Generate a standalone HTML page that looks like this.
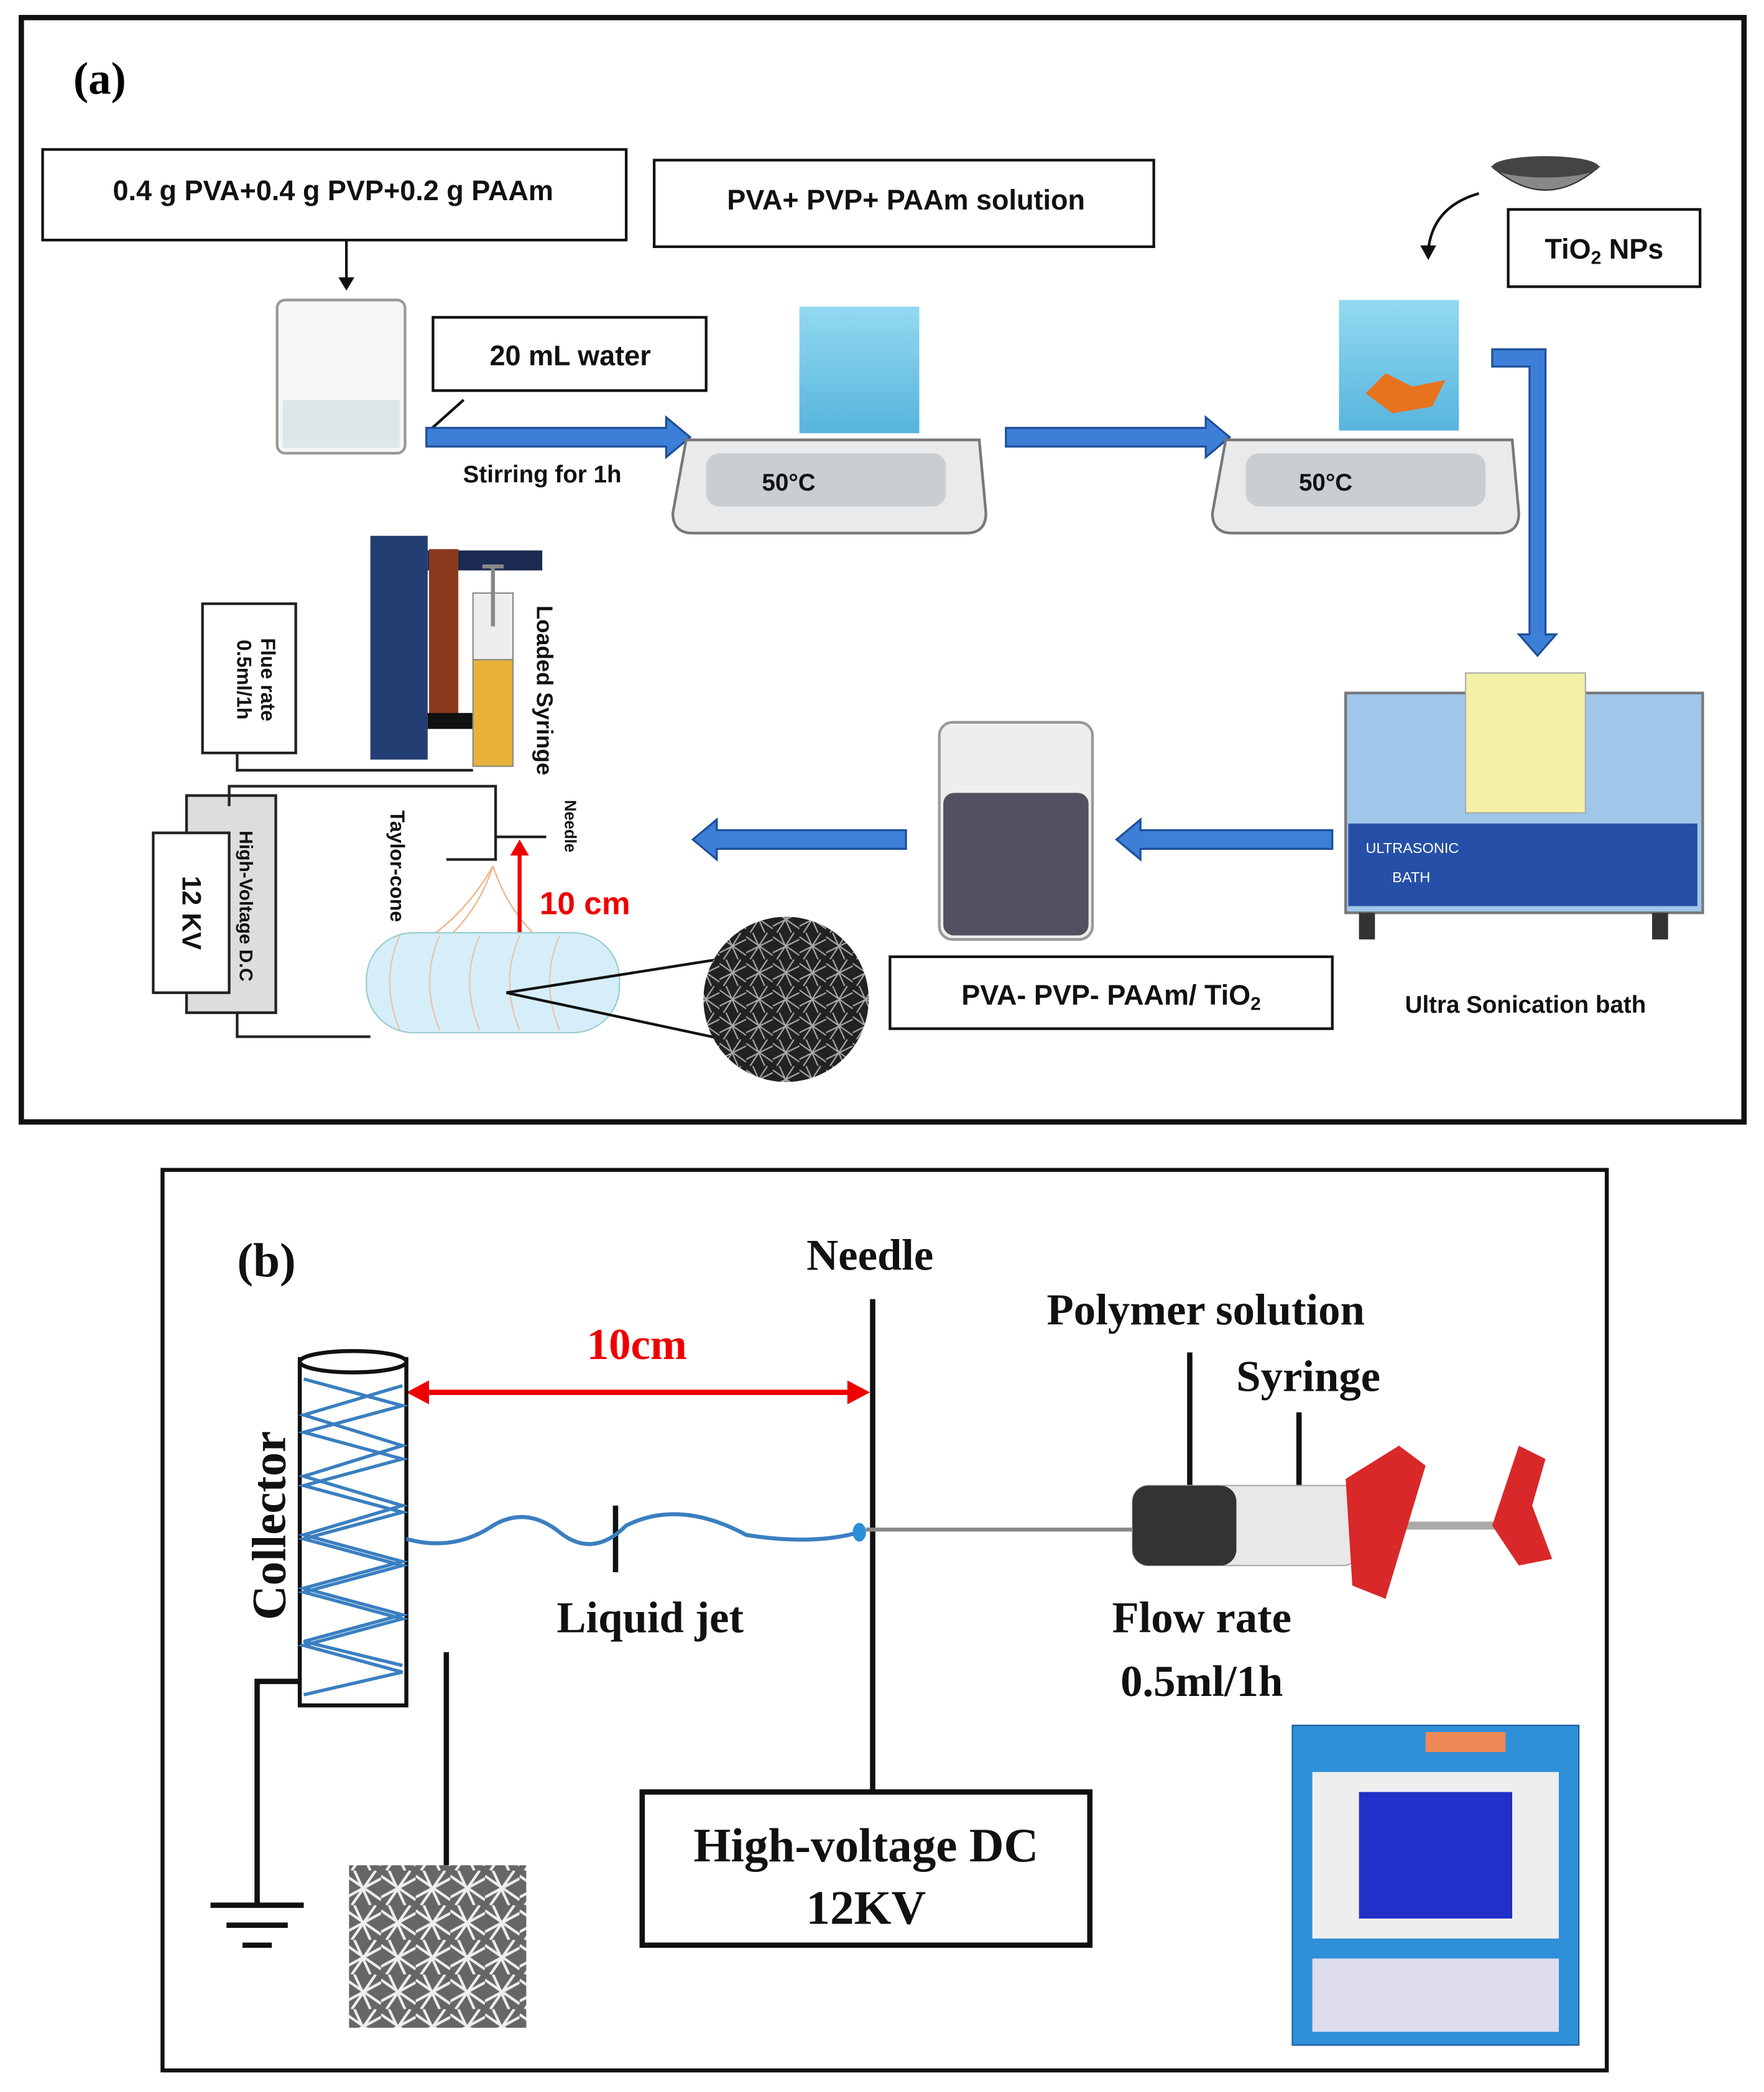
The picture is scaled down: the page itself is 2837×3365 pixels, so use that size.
<!DOCTYPE html>
<html><head><style>html,body{margin:0;padding:0;background:#fff}svg{display:block}</style></head>
<body>
<svg xmlns="http://www.w3.org/2000/svg" width="2837" height="3365" viewBox="0 0 1324 1570" font-family="Liberation Sans, sans-serif">
<defs>
<linearGradient id="bl" x1="0" x2="0" y1="0" y2="1"><stop offset="0" stop-color="#7fd3ee"/><stop offset="1" stop-color="#3aa7d8"/></linearGradient>
<pattern id="fib" width="20" height="20" patternUnits="userSpaceOnUse"><rect width="20" height="20" fill="#222"/><path d="M0 3L20 17M0 15L20 5M5 0L14 20M16 0L3 20" stroke="#aaa" stroke-width="1"/></pattern>
<pattern id="fib2" width="26" height="26" patternUnits="userSpaceOnUse"><rect width="26" height="26" fill="#666"/><path d="M0 4L26 22M0 20L26 6M6 0L18 26M22 0L4 26" stroke="#eee" stroke-width="2"/></pattern>
</defs>
<g fill="none" stroke="#111">
<rect x="16" y="13" width="1293" height="829" stroke-width="4"/>
<rect x="122" y="878" width="1084" height="676" stroke-width="3"/>
</g>
<text x="55" y="70" font-family="Liberation Serif, serif" font-weight="bold" font-size="34">(a)</text>
<g fill="#fff" stroke="#111" stroke-width="2">
<rect x="32" y="112" width="438" height="68"/>
<rect x="491" y="120" width="375" height="65"/>
<rect x="1132" y="157" width="144" height="58"/>
<rect x="325" y="238" width="205" height="55"/>
<rect x="668" y="718" width="332" height="54"/>
</g>
<g font-weight="bold" font-size="21" fill="#111" text-anchor="middle">
<text x="250" y="150">0.4 g PVA+0.4 g PVP+0.2 g PAAm</text>
<text x="680" y="157">PVA+ PVP+ PAAm  solution</text>
<text x="1204" y="194">TiO<tspan font-size="14" dy="4">2</tspan><tspan dy="-4"> NPs</tspan></text>
<text x="428" y="274">20 mL water</text>
<text x="834" y="754">PVA- PVP- PAAm/ TiO<tspan font-size="14" dy="4">2</tspan></text>
<text x="407" y="362" font-size="18">Stirring for 1h</text>
<text x="1145" y="760" font-size="18">Ultra Sonication bath</text>
</g>
<path d="M260 180V212" stroke="#111" stroke-width="2"/><path d="M254 208L260 218L266 208Z" fill="#111"/>
<path d="M320 325L348 300" stroke="#111" stroke-width="2"/>
<rect x="208" y="225" width="96" height="115" rx="6" fill="#f4f6f8" stroke="#999" stroke-width="2"/>
<rect x="212" y="300" width="88" height="36" fill="#dfe6ea"/>
<g fill="#3d7fd6" stroke="#1d4f9a" stroke-width="1.5">
<path d="M320 321H500V313L518 328L500 343V335H320Z"/>
<path d="M755 321H905V313L923 328L905 343V335H755Z"/>
<path d="M1000 623H856V615L838 630L856 645V637H1000Z"/>
<path d="M680 623H538V615L520 630L538 645V637H680Z"/>
<path d="M1120 262H1160V476H1168L1154 492L1140 476H1148V275H1120Z"/>
</g>
<g>
<path d="M515 330H735L740 385Q740 400 725 400H520Q505 400 505 385Z" fill="#e8eaec" stroke="#777" stroke-width="2"/>
<rect x="530" y="340" width="180" height="40" rx="10" fill="#c9ced3"/>
<text x="592" y="368" font-weight="bold" font-size="18" fill="#111" text-anchor="middle">50°C</text>
<rect x="600" y="230" width="90" height="95" fill="url(#bl)" opacity=".85"/>
<path d="M920 330H1135L1140 385Q1140 400 1125 400H925Q910 400 910 385Z" fill="#e8eaec" stroke="#777" stroke-width="2"/>
<rect x="935" y="340" width="180" height="40" rx="10" fill="#c9ced3"/>
<text x="995" y="368" font-weight="bold" font-size="18" fill="#111" text-anchor="middle">50°C</text>
<rect x="1005" y="225" width="90" height="98" fill="url(#bl)" opacity=".85"/>
<path d="M1025 295l15-15 20 10 25-5-10 20-30 5z" fill="#e8731f"/>
</g>
<path d="M1120 125Q1160 160 1200 125Z" fill="#888" stroke="#333"/><ellipse cx="1160" cy="125" rx="40" ry="8" fill="#444"/>
<path d="M1110 145Q1075 155 1072 188" fill="none" stroke="#111" stroke-width="2"/><path d="M1066 184L1072 195L1078 184Z" fill="#111"/>
<rect x="1010" y="520" width="268" height="165" fill="#9fc7ea" stroke="#777" stroke-width="2"/>
<rect x="1100" y="505" width="90" height="105" fill="#f3f1a8" stroke="#aaa"/>
<rect x="1012" y="618" width="262" height="62" fill="#2650a8"/>
<text x="1025" y="640" font-size="11" fill="#fff">ULTRASONIC</text><text x="1045" y="662" font-size="11" fill="#fff">BATH</text>
<rect x="1020" y="685" width="12" height="20" fill="#333"/><rect x="1240" y="685" width="12" height="20" fill="#333"/>
<rect x="705" y="542" width="115" height="163" rx="10" fill="#eee" stroke="#999" stroke-width="2"/>
<rect x="708" y="595" width="109" height="107" rx="8" fill="#55505f"/>
<rect x="278" y="402" width="43" height="168" fill="#233e72"/>
<rect x="321" y="413" width="86" height="15" fill="#1a2a50"/>
<rect x="322" y="412" width="22" height="130" fill="#8b3a1e"/>
<rect x="321" y="535" width="35" height="12" fill="#111"/>
<rect x="355" y="445" width="30" height="50" fill="#eee" stroke="#888"/>
<rect x="355" y="495" width="30" height="80" fill="#e8b23a" stroke="#888"/>
<path d="M362 425H378M370 425V470" stroke="#888" stroke-width="3"/>
<g stroke="#222" stroke-width="2" fill="none">
<path d="M178 565V578H355M152 453H222V565H152Z"/>
<path d="M140 597H207V760H140Z" fill="#ddd"/>
<path d="M172 605V590H372V628H410M372 598V645H335"/>
<path d="M178 760V778H278"/>
</g>
<rect x="115" y="625" width="57" height="120" fill="#fff" stroke="#222" stroke-width="2"/>
<g font-weight="bold" fill="#111">
<text transform="translate(196,510) rotate(90)" text-anchor="middle" font-size="15">Flue rate</text>
<text transform="translate(178,510) rotate(90)" text-anchor="middle" font-size="15">0.5ml/1h</text>
<text transform="translate(180,680) rotate(90)" text-anchor="middle" font-size="14">High-Voltage D.C</text>
<text transform="translate(137,685) rotate(90)" text-anchor="middle" font-size="20">12 KV</text>
<text transform="translate(403,518) rotate(90)" text-anchor="middle" font-size="17">Loaded Syringe</text>
<text transform="translate(424,620) rotate(90)" text-anchor="middle" font-size="12">Needle</text>
<text transform="translate(293,650) rotate(90)" text-anchor="middle" font-size="15">Taylor-cone</text>
</g>
<path d="M370 650Q360 680 340 700M370 650Q380 680 400 700M370 650Q350 685 320 705" stroke="#f0b080" fill="none"/>
<path d="M390 640V705" stroke="#e00" stroke-width="3"/><path d="M383 642L390 630L397 642ZM383 703L390 715L397 703Z" fill="#e00"/>
<text x="405" y="686" font-size="24" font-weight="bold" fill="#e00">10 cm</text>
<rect x="275" y="700" width="190" height="75" rx="35" fill="#d5eefa" stroke="#9cc"/>
<path d="M300 702Q285 737 300 773M330 702Q315 737 330 773M360 702Q345 737 360 773M390 702Q375 737 390 773M420 702Q405 737 420 773" stroke="#f0c0a0" fill="none"/>
<path d="M380 745L590 712M380 745L590 790" stroke="#111" stroke-width="2"/>
<circle cx="590" cy="750" r="62" fill="url(#fib)"/>
<g font-family="Liberation Serif, serif" font-weight="bold" fill="#111" font-size="33">
<text x="178" y="958" font-size="36">(b)</text>
<text x="653" y="953" text-anchor="middle">Needle</text>
<text x="905" y="994" text-anchor="middle">Polymer solution</text>
<text x="982" y="1044" text-anchor="middle">Syringe</text>
<text x="488" y="1225" text-anchor="middle">Liquid jet</text>
<text x="902" y="1225" text-anchor="middle">Flow rate</text>
<text x="902" y="1273" text-anchor="middle">0.5ml/1h</text>
<text x="650" y="1397" text-anchor="middle" font-size="36">High-voltage DC</text>
<text x="650" y="1444" text-anchor="middle" font-size="36">12KV</text>
<text x="478" y="1020" text-anchor="middle" fill="#e00">10cm</text>
<text transform="translate(214,1145) rotate(-90)" text-anchor="middle" font-size="36">Collector</text>
</g>
<g stroke="#111" stroke-width="4" fill="none">
<path d="M655 975V1345M462 1130V1180M893 1015V1115M975 1060V1115"/>
<path d="M228 1262H193V1430M335 1240V1400"/>
<path d="M158 1430H228M170 1445H216M182 1460H204"/>
</g>
<path d="M310 1045H645" stroke="#e00" stroke-width="4"/><path d="M322 1036L305 1045L322 1054ZM636 1036L653 1045L636 1054Z" fill="#e00"/>
<rect x="482" y="1345" width="336" height="115" fill="none" stroke="#111" stroke-width="4"/>
<rect x="225" y="1020" width="80" height="260" fill="#fff" stroke="#111" stroke-width="3"/>
<ellipse cx="265" cy="1022" rx="40" ry="8" fill="#fff" stroke="#111" stroke-width="3"/>
<path d="M228 1035L302 1055L228 1075L302 1095L228 1115L302 1135L228 1155L302 1175L228 1195L302 1215L228 1235L302 1255L228 1272M302 1040L228 1062L302 1085L228 1108L302 1130L228 1152L302 1172L228 1192L302 1212L228 1232L302 1250" stroke="#3a7fc0" stroke-width="2.5" fill="none"/>
<path d="M305 1155Q340 1165 370 1145Q395 1130 420 1150Q445 1170 470 1145Q510 1125 560 1152Q610 1160 645 1150" stroke="#3a7fc0" stroke-width="3" fill="none"/>
<ellipse cx="645" cy="1150" rx="5" ry="7" fill="#2a8fd8"/>
<path d="M650 1148H850" stroke="#888" stroke-width="3"/>
<rect x="850" y="1115" width="170" height="60" rx="12" fill="#e8e8e8" stroke="#aaa"/>
<rect x="850" y="1115" width="78" height="60" rx="12" fill="#333"/>
<path d="M1020 1145H1125" stroke="#aaa" stroke-width="6"/>
<path d="M1010 1110L1050 1085L1070 1100L1040 1200L1015 1190Z" fill="#d9282a"/>
<path d="M1120 1145L1140 1085L1160 1095L1150 1130L1165 1170L1140 1175Z" fill="#d9282a"/>
<rect x="262" y="1400" width="133" height="122" fill="url(#fib2)"/>
<rect x="970" y="1295" width="215" height="240" fill="#2f8fd8" stroke="#1a5a9a"/>
<rect x="985" y="1330" width="185" height="125" fill="#eee"/>
<rect x="1020" y="1345" width="115" height="95" fill="#2030c8"/>
<rect x="985" y="1470" width="185" height="55" fill="#dde"/>
<rect x="1070" y="1300" width="60" height="15" fill="#e85"/>
</svg>
</body></html>
